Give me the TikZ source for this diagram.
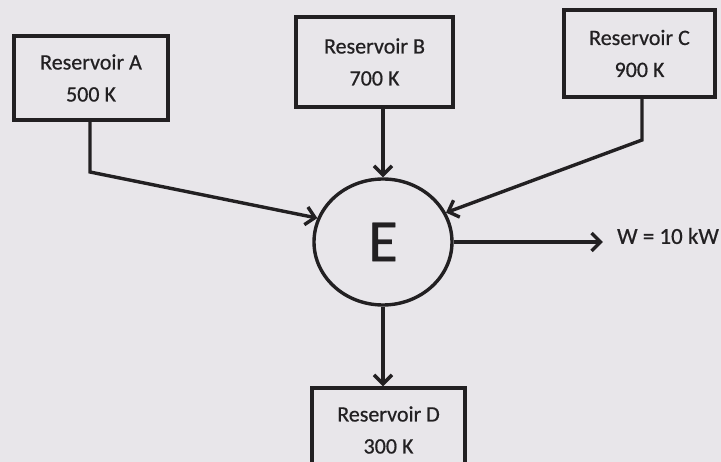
\documentclass[tikz,border=0pt]{standalone}
\usepackage{fontspec}
\setmainfont{Carlito}[FakeBold=0.6]
\usetikzlibrary{arrows.meta,shapes.geometric}
\definecolor{paper}{RGB}{232,230,234}
\definecolor{ink}{RGB}{34,32,34}
\tikzset{
  resbox/.style={draw=ink, line width=3.4pt, fill=paper, text=ink, inner sep=0pt,
    align=center, font=\fontsize{22}{32}\selectfont},
  conn/.style={draw=ink, line width=3.4pt, -{Straight Barb[length=9pt,width=18pt,line width=3.4pt]}},
  engine/.style={ellipse, draw=ink, line width=3.4pt, fill=paper, text=ink, inner sep=0pt,
    minimum width=138pt, minimum height=126pt, font=\fontsize{60}{66}\selectfont}
}
\begin{document}
\begin{tikzpicture}[x=1pt,y=-1pt]
\fill[paper] (0,0) rectangle (721,462);
\useasboundingbox (0,0) rectangle (721,462);
\clip (0,0) rectangle (721,462);
\node[resbox, minimum width=154pt, minimum height=84pt] (A) at (91,78) {Reservoir A\\500 K};
\node[resbox, minimum width=157pt, minimum height=90pt] (B) at (374.5,62) {Reservoir B\\700 K};
\node[resbox, minimum width=151pt, minimum height=87pt] (C) at (639.5,53.5) {Reservoir C\\900 K};
\node[resbox, minimum width=153pt, minimum height=84pt] (D) at (388.5,430) {Reservoir D\\300 K};
\node[engine] (E) at (383,242) {E};
\node[text=ink, inner ysep=0pt, inner xsep=14pt, font=\fontsize{23}{26}\selectfont] (W) at (668,236) {W = 10 kW};
\coordinate (ka) at (90,172);
\coordinate (kc) at (642,140);
\draw[conn] (A.south -| ka) -- (ka) -- (E.160);
\draw[conn] (C.south -| kc) -- (kc) -- (E.25);
\draw[conn] (B.south -| E.north) -- (E.north);
\draw[conn] (E.south) -- (E.south |- D.north);
\draw[conn] (E.east) -- (E.east -| W.west);
\end{tikzpicture}
\end{document}
